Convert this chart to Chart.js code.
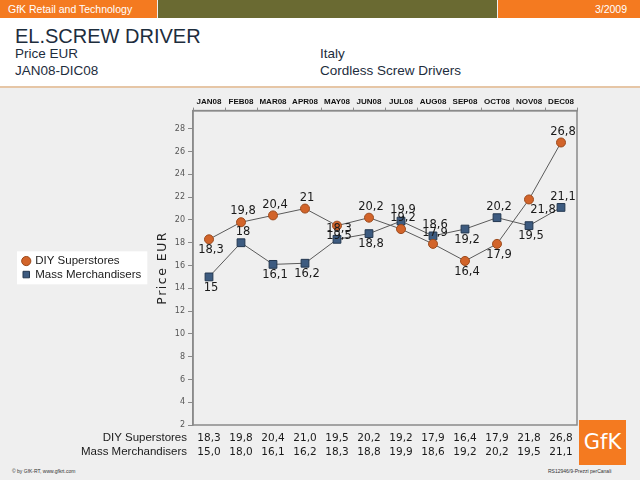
<!DOCTYPE html>
<html>
<head>
<meta charset="utf-8">
<script src="https://cdn.jsdelivr.net/npm/chart.js@4.4.1/dist/chart.umd.min.js"></script>
<style>
  body { margin: 0; width: 640px; height: 480px; background: #efefef; position: relative; overflow: hidden; font-family: "Liberation Sans", sans-serif; }
  .bar { position: absolute; top: 0; height: 18px; }
  .head { position: absolute; left: 0; top: 18px; width: 640px; height: 68px; background: #fff; border-bottom: 2px solid #e6c6a6; }
  .t { position: absolute; color: #1d2d3d; white-space: nowrap; }
  #wrap { position: absolute; left: 0; top: 88px; width: 640px; height: 372px; }
  .logo { position: absolute; left: 579px; top: 420px; width: 47px; height: 45px; background: #f47a20; color: #fff; font: 21px "DejaVu Sans", sans-serif; text-align: center; line-height: 45px; }
  .foot { position: absolute; top: 468px; font-size: 5px; color: #333; }
</style>
</head>
<body>
<div class="bar" style="left:0;width:157px;background:#f47a20"></div>
<div class="bar" style="left:158px;width:339px;background:#6a6a32"></div>
<div class="bar" style="left:498px;width:142px;background:#f47a20"></div>
<div class="t" style="left:8px;top:3px;font-size:10.5px;color:#fff">GfK Retail and Technology</div>
<div class="t" style="right:13px;top:3px;font-size:10.5px;color:#fff">3/2009</div>
<div class="head"></div>
<div class="t" style="left:15px;top:25px;font-size:20px">EL.SCREW DRIVER</div>
<div class="t" style="left:15px;top:46px;font-size:13.5px">Price EUR</div>
<div class="t" style="left:15px;top:63px;font-size:13.5px">JAN08-DIC08</div>
<div class="t" style="left:320px;top:46px;font-size:13.5px">Italy</div>
<div class="t" style="left:320px;top:63px;font-size:13.5px">Cordless Screw Drivers</div>
<div id="wrap"><canvas id="chart"></canvas></div>
<div class="logo">GfK</div>
<div class="foot" style="left:12px">© by GfK-RT, www.gfkrt.com</div>
<div class="foot" style="left:548px">RS12946/9-Prezzi perCanali</div>
<script>
var months = ["JAN08", "FEB08", "MAR08", "APR08", "MAY08", "JUN08", "JUL08", "AUG08", "SEP08", "OCT08", "NOV08", "DEC08"];
var diyValues = [18.3, 19.8, 20.4, 21.0, 19.5, 20.2, 19.2, 17.9, 16.4, 17.9, 21.8, 26.8];
var massValues = [15.0, 18.0, 16.1, 16.2, 18.3, 18.8, 19.9, 18.6, 19.2, 20.2, 19.5, 21.1];
var seriesNames = ["DIY Superstores", "Mass Merchandisers"];

// where each point label sits: a = above, b = below, r = right/below
var diyLabelPos = ["b", "a", "a", "a", "b", "a", "a", "a", "b", "b", "r", "a"];
var massLabelPos = ["b", "a", "b", "b", "a", "b", "a", "a", "b", "a", "b", "a"];

function fmtPoint(v) {
  return Number.isInteger(v) ? String(v) : v.toFixed(1).replace(".", ",");
}
function fmtTable(v) {
  return v.toFixed(1).replace(".", ",");
}

var pointLabels = {
  id: "pointLabels",
  afterDatasetsDraw: function (chart) {
    var ctx = chart.ctx;
    ctx.save();
    ctx.font = "11.5px 'DejaVu Sans'";
    ctx.fillStyle = "#1a1a1a";
    ctx.textAlign = "center";
    chart.data.datasets.forEach(function (ds, di) {
      var pos = di === 0 ? diyLabelPos : massLabelPos;
      chart.getDatasetMeta(di).data.forEach(function (pt, i) {
        var x = pt.x + 2, y;
        if (pos[i] === "a") { ctx.textBaseline = "bottom"; y = pt.y - 5; }
        else if (pos[i] === "b") { ctx.textBaseline = "top"; y = pt.y + 5; }
        else { ctx.textBaseline = "top"; y = pt.y + 5; x = pt.x + 14; }
        ctx.fillText(fmtPoint(ds.data[i]), x, y);
      });
    });
    ctx.restore();
  }
};

var extras = {
  id: "extras",
  afterLayout: function (chart) {
    // spaced-out axis title like the original
    var s = chart.scales.y;
    if (!s._spaced) {
      var orig = s.drawTitle.bind(s);
      s.drawTitle = function (area) {
        chart.ctx.save();
        chart.ctx.letterSpacing = "1.5px";
        orig(area);
        chart.ctx.restore();
      };
      s._spaced = true;
    }
  },
  beforeDraw: function (chart) {
    var ctx = chart.ctx;
    var boxes = chart.legend.legendHitBoxes;
    if (boxes && boxes.length) {
      var l = Math.min.apply(null, boxes.map(function (b) { return b.left; }));
      var r = Math.max.apply(null, boxes.map(function (b) { return b.left + b.width; }));
      var t = boxes[0].top, btm = boxes[boxes.length - 1].top + boxes[boxes.length - 1].height;
      ctx.save();
      ctx.fillStyle = "#fff";
      ctx.fillRect(l - 6, t - 4, r - l + 12, btm - t + 8);
      ctx.restore();
    }
  },
  afterDraw: function (chart) {
    var ctx = chart.ctx, a = chart.chartArea, xs = chart.scales.x;
    ctx.save();
    ctx.strokeStyle = "#8a8a8a";
    ctx.lineWidth = 1.5;
    ctx.strokeRect(a.left, a.top, a.right - a.left, a.bottom - a.top);
    ctx.fillStyle = "#1a1a1a";
    ctx.textBaseline = "middle";
    var rows = [diyValues, massValues];
    rows.forEach(function (vals, ri) {
      var y = a.bottom + 13 + ri * 14;
      ctx.font = "11.5px 'Liberation Sans'";
      ctx.textAlign = "right";
      ctx.fillText(seriesNames[ri], a.left - 6, y);
      ctx.font = "10.5px 'DejaVu Sans'";
      ctx.textAlign = "center";
      vals.forEach(function (v, i) {
        ctx.fillText(fmtTable(v), xs.getPixelForValue(i), y);
      });
    });
    ctx.restore();
  }
};

var chart = new Chart(document.getElementById("chart"), {
  type: "line",
  data: {
    labels: months,
    datasets: [
      {
        label: seriesNames[0],
        data: diyValues,
        borderColor: "#5a5a5a",
        borderWidth: 1,
        pointStyle: "circle",
        pointRadius: 4.5,
        pointBackgroundColor: "#d2642a",
        pointBorderColor: "#9c4a1c",
        pointBorderWidth: 1
      },
      {
        label: seriesNames[1],
        data: massValues,
        borderColor: "#5a5a5a",
        borderWidth: 1,
        pointStyle: "rect",
        pointRadius: 5.5,
        pointBackgroundColor: "#3d5b80",
        pointBorderColor: "#23374f",
        pointBorderWidth: 1
      }
    ]
  },
  options: {
    responsive: true,
    maintainAspectRatio: false,
    animation: false,
    layout: { padding: { left: 21, right: 63, top: 8, bottom: 35 } },
    plugins: {
      legend: {
        position: "left",
        fullSize: false,
        labels: {
          usePointStyle: true,
          boxWidth: 6.5,
          boxHeight: 6.5,
          padding: 2,
          color: "#1a1a1a",
          font: { family: "Liberation Sans", size: 11.5 }
        }
      },
      tooltip: { enabled: false }
    },
    scales: {
      x: {
        position: "top",
        offset: true,
        border: { color: "#8a8a8a", width: 1.5 },
        grid: { drawOnChartArea: false, offset: true, tickLength: 3, color: "#8a8a8a" },
        ticks: { autoSkip: false, color: "#111", padding: 1, font: { family: "Liberation Sans", size: 8, weight: "bold" }, maxRotation: 0 }
      },
      y: {
        min: 2,
        max: 29.6,
        border: { color: "#8a8a8a", width: 1.5 },
        grid: { drawOnChartArea: false, tickLength: 5, color: "#8a8a8a" },
        ticks: { stepSize: 2, includeBounds: false, color: "#555", padding: 3, font: { family: "DejaVu Sans", size: 8 } },
        title: { display: true, text: "Price EUR", color: "#222", padding: 4, font: { family: "DejaVu Sans", size: 12.5 } },
        afterFit: function (scale) {
          scale.width = 193 - 21 - scale.chart.legend.width;
        }
      }
    }
  },
  plugins: [pointLabels, extras]
});
</script>
</body>
</html>
